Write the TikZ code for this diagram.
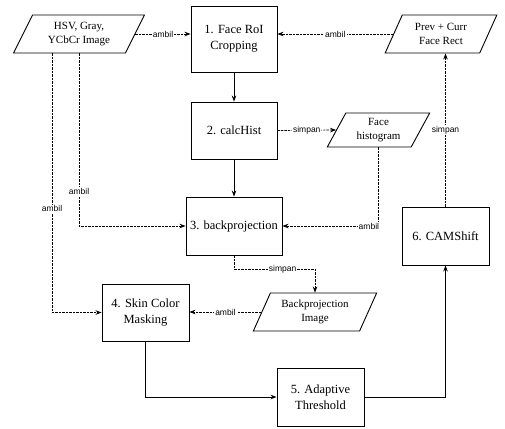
\documentclass[tikz,border=0pt]{standalone}
\usepackage{fontspec}
\setmainfont{Liberation Serif}
\newfontfamily\lblfont{Liberation Sans}
\usetikzlibrary{shapes.geometric,arrows.meta}

\begin{document}
\begin{tikzpicture}[x=1pt,y=-1pt,
    proc/.style={draw,line width=0.9pt,align=center,font=\fontsize{12.5}{16}\selectfont,inner sep=1pt},
    data/.style={draw,line width=0.9pt,trapezium,trapezium left angle=63,trapezium right angle=117,trapezium stretches=true,align=center,font=\fontsize{11}{14}\selectfont,inner sep=1pt},
    lbl/.style={fill=white,inner sep=1pt,font=\lblfont\fontsize{8.5}{10}\selectfont},
    get/.style={line width=0.7pt,dash pattern=on 2.5pt off 1pt,-{Stealth[length=6pt,width=4.5pt]}},
    go/.style={line width=0.8pt,-{Stealth[length=6pt,width=4.5pt]}}]
\useasboundingbox (0,0) rectangle (505,428);
\node[data,minimum width=132pt,minimum height=38pt] (img) at (79,34) {HSV, Gray,\\YCbCr Image};
\node[data,minimum width=112pt,minimum height=38pt] (rect) at (441,34) {Prev + Curr\\Face Rect};
\node[data,minimum width=103pt,minimum height=34pt] (hist) at (378.5,130) {Face\\histogram};
\node[data,minimum width=124pt,minimum height=38pt] (bpimg) at (315,312) {Backprojection\\Image};
\node[proc,minimum width=86pt,minimum height=66pt] (crop) at (234,39) {1. Face RoI\\Cropping};
\node[proc,minimum width=86pt,minimum height=57pt] (calc) at (234,130.5) {2. calcHist};
\node[proc,minimum width=96pt,minimum height=58pt] (bproj) at (234,226) {3. backprojection};
\node[proc,minimum width=87pt,minimum height=57pt] (mask) at (145.5,312.5) {4. Skin Color\\Masking};
\node[proc,minimum width=87pt,minimum height=58pt] (thr) at (320.5,397) {5. Adaptive\\Threshold};
\node[proc,minimum width=87pt,minimum height=58pt] (cam) at (445.5,236) {6. CAMShift};
\draw[get] (img.east) -- node[lbl] {ambil} (img.east -| crop.west);
\draw[get] (rect.west) -- node[lbl] {ambil} (rect.west -| crop.east);
\draw[go] (crop) -- (calc);
\draw[get] (calc.east) -- node[lbl] {simpan} (hist.west);
\draw[go] (calc) -- (bproj);
\draw[get] (hist.south) |- node[lbl,pos=0.55] {ambil} (bproj.east);
\draw[get] (img.south) |- node[lbl,pos=0.4] {ambil} (bproj.west);
\draw[get] ([xshift=-27pt]img.south) |- node[lbl,pos=0.3] {ambil} (mask.west);
\draw[get] (bproj.south) -- ([yshift=-14pt]bproj.south) -| node[lbl,pos=0.3] {simpan} (bpimg.north);
\draw[get] (bpimg.west) -- node[lbl] {ambil} (bpimg.west -| mask.east);
\draw[go] (mask.south) |- (thr.west);
\draw[go] (thr.east) -| (cam.south);
\draw[get] (cam.north) -- node[lbl] {simpan} (cam.north |- rect.south);
\end{tikzpicture}
\end{document}
